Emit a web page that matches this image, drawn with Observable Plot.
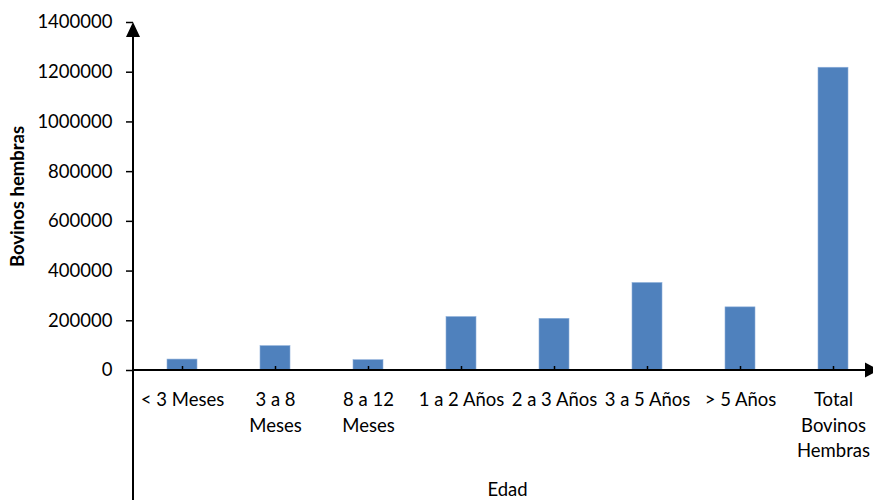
<!DOCTYPE html>
<html>
<head>
<meta charset="utf-8">
<script src="https://cdn.jsdelivr.net/npm/d3@7"></script>
<script src="https://cdn.jsdelivr.net/npm/@observablehq/plot@0.6"></script>
<style>
  html, body { margin: 0; padding: 0; background: #fff; }
</style>
</head>
<body>
<div id="chart"></div>
<script>
const categories = ["< 3 Meses", "3 a 8 Meses", "8 a 12 Meses", "1 a 2 Años", "2 a 3 Años", "3 a 5 Años", "> 5 Años", "Total Bovinos Hembras"];
const tickLabels = ["< 3 Meses", "3 a 8\nMeses", "8 a 12\nMeses", "1 a 2 Años", "2 a 3 Años", "3 a 5 Años", "> 5 Años", "Total\nBovinos\nHembras"];
const values = [44000, 98000, 41500, 215000, 208000, 352000, 254000, 1218000];
const yTicks = [0, 200000, 400000, 600000, 800000, 1000000, 1200000, 1400000];
const yLabel = "Bovinos hembras";
const xLabel = "Edad";

const data = categories.map((c, i) => ({cat: c, value: values[i]}));
const labelOf = new Map(categories.map((c, i) => [c, tickLabels[i]]));

const plot = Plot.plot({
  width: 873,
  height: 500,
  marginLeft: 133,
  marginRight: -8,
  marginTop: 22,
  marginBottom: 130,
  style: {fontFamily: "Lato, 'Open Sans', sans-serif", fontSize: "18.5px", color: "#000", background: "#fff"},
  x: {domain: categories, paddingInner: 0.68, paddingOuter: 0.34, align: 0.5},
  y: {domain: [0, 1400000]},
  marks: [
    Plot.barY(data, {x: "cat", y: "value", fill: "#4F81BD", stroke: "#8EB0DA", strokeWidth: 0.6}),
    Plot.axisY({ticks: yTicks, tickFormat: d3.format("d"), tickSize: 7, tickPadding: 14, label: null, strokeWidth: 1.5}),
    Plot.axisX({tickSize: -4, tickFormat: () => "", label: null, strokeWidth: 1.5}),
    Plot.axisX({tickSize: 0, tickPadding: 18, tickFormat: d => labelOf.get(d), lineHeight: 1.36, label: null}),
    Plot.text([yLabel], {frameAnchor: "left", textAnchor: "middle", lineAnchor: "middle", rotate: -90, dx: -115, fontWeight: "bold", fontSize: 18.5}),
    Plot.text([xLabel], {frameAnchor: "bottom", textAnchor: "middle", lineAnchor: "middle", dy: 120, fontSize: 18.5})
  ]
});

document.getElementById("chart").appendChild(plot);

// Axis lines with arrows, placed from the plot's own scales
const xs = plot.scale("x");
const ys = plot.scale("y");
const left = xs.range[0];
const right = xs.range[1];
const y0 = ys.apply(0);
const yTop = ys.range[1];
const svg = d3.select(plot);
const g = svg.append("g");
g.append("line").attr("x1", left).attr("x2", left).attr("y1", yTop + 8).attr("y2", 500)
  .attr("stroke", "#000").attr("stroke-width", 2);
g.append("line").attr("x1", left).attr("x2", right - 8).attr("y1", y0).attr("y2", y0)
  .attr("stroke", "#000").attr("stroke-width", 2);
g.append("path").attr("d", `M${left},${yTop} L${left - 7},${yTop + 15} L${left + 7},${yTop + 15} Z`).attr("fill", "#000");
g.append("path").attr("d", `M${right - 2},${y0} L${right - 16},${y0 - 7.5} L${right - 16},${y0 + 7.5} Z`).attr("fill", "#000");
</script>
</body>
</html>
